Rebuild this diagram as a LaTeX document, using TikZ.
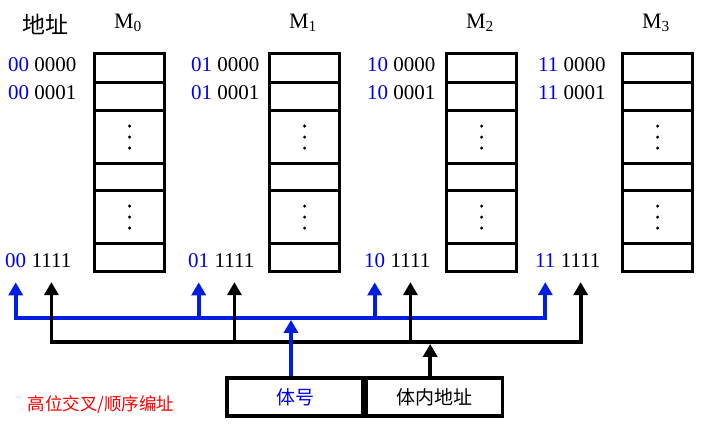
\documentclass[tikz,border=0pt]{standalone}
\usepackage{fontspec}
\setmainfont{Liberation Serif}
\newfontfamily\cjk{Noto Sans CJK SC}
\usetikzlibrary{arrows.meta, positioning}
\definecolor{busblue}{RGB}{0,30,225}
\definecolor{txtblue}{RGB}{0,0,235}
\definecolor{capred}{RGB}{250,0,0}
\tikzstyle{memcell}=[draw, line width=3.2pt, minimum width=70pt, inner sep=0pt, anchor=north west]
\tikzstyle{addr}=[inner sep=0pt, anchor=west, font=\fontsize{21}{24}\selectfont]
\tikzstyle{field}=[draw, line width=3.2pt, minimum width=136pt, minimum height=38pt, inner sep=0pt, font=\cjk\fontsize{19}{22}\selectfont]
\tikzstyle{bus}=[line width=3.8pt, -{Triangle[length=13pt, width=14pt]}]
\tikzstyle{busline}=[line width=3.8pt, line cap=rect]
\newcommand{\memcell}{\node[memcell]}

\begin{document}
\begin{tikzpicture}[x=1pt, y=-1pt]
\useasboundingbox (0,0) rectangle (710,430);
%name
\node[font=\cjk\fontsize{23}{26}\selectfont] (title) at (45,24) {地址};
%banks
\foreach \b/\x/\lx/\hb in {0/93/8/00, 1/268/191/01, 2/445/367/10, 3/621/538/11}{
	\node[font=\fontsize{22}{26}\selectfont] (name\b) at (\x+35,23) {M\textsubscript{\b}};
	\foreach \k/\t/\h in {1/52/29pt, 2/81/28pt, 3/109/53pt, 4/162/27pt, 5/189/53pt, 6/242/28pt}{
		\memcell[minimum height=\h] (m\b r\k) at (\x,\t) {};}
	\foreach \k in {3,5}{
		\foreach \d in {-11,0,11}{
			\fill ([yshift=\d pt]m\b r\k.center) circle (1.7pt);}}
	\node[addr] (a\b) at (\lx,65) {\textcolor{txtblue}{\hb} 0000};
	\node[addr] (b\b) at (\lx,93) {\textcolor{txtblue}{\hb} 0001};
	\node[addr, text=txtblue] (h\b) at (\lx-3,261) {\hb};
	\node[addr, right=5pt of h\b] (l\b) {1111};
}
%fields
\node[field, text=txtblue] (bank) at (295,397) {体号};
\node[field, right=0pt of bank] (offset) {体内地址};
\node[anchor=west, text=capred, font=\cjk\fontsize{17.5}{20}\selectfont] (caption) at (24,405) {高位交叉/顺序编址};
%buses
\coordinate (bluebus) at (0,318);
\coordinate (blackbus) at (0,342);
\coordinate (bankout) at ([xshift=-4pt]bank.north);
\coordinate (offsetout) at ([xshift=-4pt]offset.north);
\draw[busline, busblue] (h0.south |- bluebus) -- (h3.south |- bluebus);
\draw[busline] (l0.south |- blackbus) -- (l3.south |- blackbus);
\foreach \b in {0,1,2,3}{
	\draw[bus] (l\b.south |- blackbus) -- ([yshift=-14pt]l\b.south);
	\draw[bus, busblue] (h\b.south |- bluebus) -- ([yshift=-14pt]h\b.south);}
\draw[bus, shorten >=1.9pt] (offsetout) -- (offsetout |- blackbus);
\draw[bus, busblue, shorten >=1.9pt] (bankout) -- (bankout |- bluebus);
\end{tikzpicture}
\end{document}
